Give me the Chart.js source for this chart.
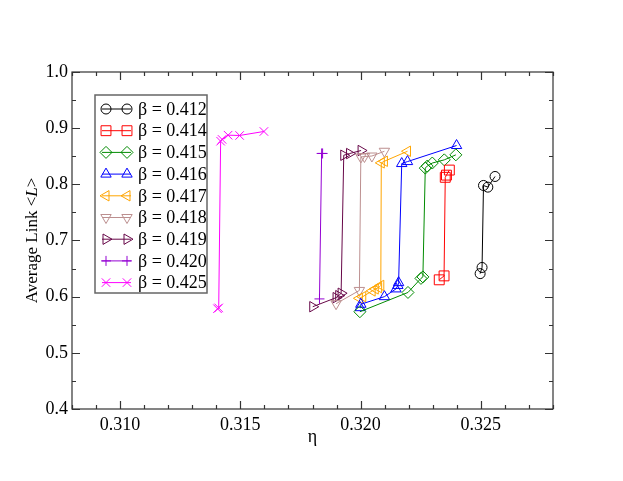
<!DOCTYPE html>
<html lang="en">
<head>
<meta charset="UTF-8">
<title>Average Link vs eta</title>
<script src="https://cdn.jsdelivr.net/npm/chart.js"></script>
<style>
  body { margin: 0; background: #fff; }
  canvas { display: block; }
</style>
</head>
<body>
<canvas id="linkChart" width="623" height="481"></canvas>
<script>
// values, one pair of arrays per beta
const betaLabels = ['β = 0.412', 'β = 0.414', 'β = 0.415', 'β = 0.416', 'β = 0.417',
                    'β = 0.418', 'β = 0.419', 'β = 0.420', 'β = 0.425'];

const eta412 = [0.32497, 0.32505, 0.32511, 0.32529, 0.32559];
const L412   = [0.641, 0.652, 0.798, 0.795, 0.814];

const eta414 = [0.32327, 0.32347, 0.32352, 0.32357, 0.32369];
const L414   = [0.630, 0.637, 0.8125, 0.8164, 0.8254];

const eta415 = [0.31997, 0.32197, 0.32251, 0.32259, 0.32269, 0.32277, 0.32298, 0.32348, 0.32396];
const L415   = [0.5732, 0.6075, 0.6325, 0.6352, 0.8289, 0.8325, 0.8379, 0.8436, 0.8525];

const eta416 = [0.31998, 0.32001, 0.32099, 0.32147, 0.32155, 0.32158, 0.32171, 0.32195, 0.32399];
const L416   = [0.5804, 0.5865, 0.600, 0.6138, 0.620, 0.625, 0.837, 0.8405, 0.8691];

const eta417 = [0.31995, 0.32009, 0.32048, 0.32061, 0.32075, 0.32084, 0.32086, 0.32099, 0.32195];
const L417   = [0.5971, 0.600, 0.6102, 0.6138, 0.6161, 0.620, 0.8382, 0.8411, 0.8589];

const eta418 = [0.31898, 0.31995, 0.32001, 0.32016, 0.32047, 0.32099];
const L418   = [0.5875, 0.6111, 0.8486, 0.8495, 0.8504, 0.8589];

const eta419 = [0.31801, 0.31898, 0.31909, 0.31919, 0.31930, 0.31954, 0.32002];
const L419   = [0.5821, 0.5982, 0.6018, 0.6061, 0.8518, 0.8548, 0.8602];

const eta420 = [0.31829, 0.31838, 0.31842];
const L420   = [0.596, 0.855, 0.855];

const eta425 = [0.31405, 0.31410, 0.31418, 0.31424, 0.31449, 0.31497, 0.31598];
const L425   = [0.5785, 0.5800, 0.8768, 0.8800, 0.8875, 0.8870, 0.8941];

const xTicks = [0.310, 0.315, 0.320, 0.325];
const yTicks = [0.4, 0.5, 0.6, 0.7, 0.8, 0.9, 1.0];

const etaSets = [eta412, eta414, eta415, eta416, eta417, eta418, eta419, eta420, eta425];
const LSets   = [L412, L414, L415, L416, L417, L418, L419, L420, L425];

// marker look per series (grace-like)
const colors = ['#000000', '#ff0000', '#008b00', '#0000ff', '#ffa500',
                '#bc8f8f', '#670748', '#9400d3', '#ff00ff'];
const shapes = ['circle', 'rect', 'rectRot', 'triangle', 'triangle',
                'triangle', 'triangle', 'cross', 'crossRot'];
const rots   = [0, 0, 0, 0, 270, 180, 90, 0, 0];
const radii  = [5, 7, 6, 6, 6, 6, 6, 5, 6];

const serif = "'Liberation Serif', 'DejaVu Serif', serif";

const datasets = etaSets.map((etas, i) => ({
    label: betaLabels[i],
    data: etas.map((e, j) => ({ x: e, y: LSets[i][j] })),
    borderColor: colors[i],
    backgroundColor: 'rgba(0,0,0,0)',
    borderWidth: 1,
    pointStyle: shapes[i],
    pointRotation: rots[i],
    pointRadius: radii[i],
    pointBorderWidth: 1,
    pointBorderColor: colors[i],
    pointBackgroundColor: 'rgba(0,0,0,0)',
    fill: false,
    tension: 0
}));

// box around the plot, inward ticks on all four sides, axis titles
const framePlugin = {
    id: 'frame',
    afterDraw(chart) {
        const ctx = chart.ctx;
        const a = chart.chartArea;
        const xs = chart.scales.x, ys = chart.scales.y;
        ctx.save();
        ctx.strokeStyle = '#333';
        ctx.lineWidth = 1.2;
        ctx.strokeRect(a.left, a.top, a.right - a.left, a.bottom - a.top);

        ctx.beginPath();
        for (let k = 0; k <= 20; k++) {
            const v = 0.308 + k * 0.001;
            const major = xTicks.some(t => Math.abs(t - v) < 1e-7);
            const len = major ? 8 : 4;
            const px = Math.round(xs.getPixelForValue(v)) + 0.5;
            ctx.moveTo(px, a.bottom); ctx.lineTo(px, a.bottom - len);
            ctx.moveTo(px, a.top); ctx.lineTo(px, a.top + len);
        }
        for (let k = 0; k <= 12; k++) {
            const v = 0.4 + k * 0.05;
            const len = (k % 2 === 0) ? 8 : 4;
            const py = Math.round(ys.getPixelForValue(v)) + 0.5;
            ctx.moveTo(a.left, py); ctx.lineTo(a.left + len, py);
            ctx.moveTo(a.right, py); ctx.lineTo(a.right - len, py);
        }
        ctx.stroke();

        // x title
        ctx.fillStyle = '#000';
        ctx.font = '18px ' + serif;
        ctx.textAlign = 'center';
        ctx.textBaseline = 'middle';
        ctx.fillText('η', (a.left + a.right) / 2, 437);

        // y title with italic L
        const parts = [['Average Link <', ''], ['L', 'italic '], ['>', '']];
        let total = 0;
        parts.forEach(p => { ctx.font = p[1] + '17px ' + serif; total += ctx.measureText(p[0]).width; });
        ctx.translate(33, (a.top + a.bottom) / 2);
        ctx.rotate(-Math.PI / 2);
        ctx.textAlign = 'left';
        let x = -total / 2;
        parts.forEach(p => {
            ctx.font = p[1] + '17px ' + serif;
            ctx.fillText(p[0], x, 0);
            x += ctx.measureText(p[0]).width;
        });
        ctx.restore();
    }
};

// grace style legend: a line with a hollow marker at each end
const legendPlugin = {
    id: 'graceLegend',
    afterDraw(chart) {
        const ctx = chart.ctx;
        ctx.save();
        ctx.fillStyle = '#fff';
        ctx.fillRect(95, 95, 112, 198);
        ctx.strokeStyle = '#666';
        ctx.lineWidth = 1.5;
        ctx.strokeRect(95, 95, 112, 198);
        chart.data.datasets.forEach((ds, i) => {
            const y = 109 + i * 21.7;
            ctx.strokeStyle = ds.borderColor;
            ctx.lineWidth = 1;
            ctx.beginPath();
            ctx.moveTo(102, y); ctx.lineTo(131, y);
            ctx.stroke();
            ctx.fillStyle = 'rgba(0,0,0,0)';
            [106, 127].forEach(px => {
                Chart.helpers.drawPoint(ctx, {
                    pointStyle: ds.pointStyle, rotation: ds.pointRotation,
                    radius: ds.pointRadius, borderWidth: 1
                }, px, y);
            });
            ctx.fillStyle = '#000';
            ctx.font = '18px ' + serif;
            ctx.textAlign = 'left';
            ctx.textBaseline = 'middle';
            ctx.fillText(ds.label, 138, y + 1);
        });
        ctx.restore();
    }
};

new Chart(document.getElementById('linkChart'), {
    type: 'line',
    data: { datasets: datasets },
    options: {
        responsive: false,
        animation: false,
        devicePixelRatio: 1,
        layout: { padding: { top: 72, right: 70, left: 0, bottom: 0 } },
        plugins: { legend: { display: false }, tooltip: { enabled: false } },
        scales: {
            x: {
                type: 'linear', min: 0.308, max: 0.328,
                grid: { display: false, drawTicks: false },
                border: { display: false },
                afterBuildTicks: s => { s.ticks = xTicks.map(v => ({ value: v })); },
                afterFit: s => { s.height = 72; },
                ticks: {
                    padding: 5, color: '#000', maxRotation: 0,
                    font: { family: serif, size: 18 },
                    callback: v => v.toFixed(3)
                }
            },
            y: {
                type: 'linear', min: 0.4, max: 1.0,
                grid: { display: false, drawTicks: false },
                border: { display: false },
                afterBuildTicks: s => { s.ticks = yTicks.map(v => ({ value: v })); },
                afterFit: s => { s.width = 72; },
                ticks: {
                    padding: 4, color: '#000',
                    font: { family: serif, size: 18 },
                    callback: v => v.toFixed(1)
                }
            }
        }
    },
    plugins: [framePlugin, legendPlugin]
});
</script>
</body>
</html>
